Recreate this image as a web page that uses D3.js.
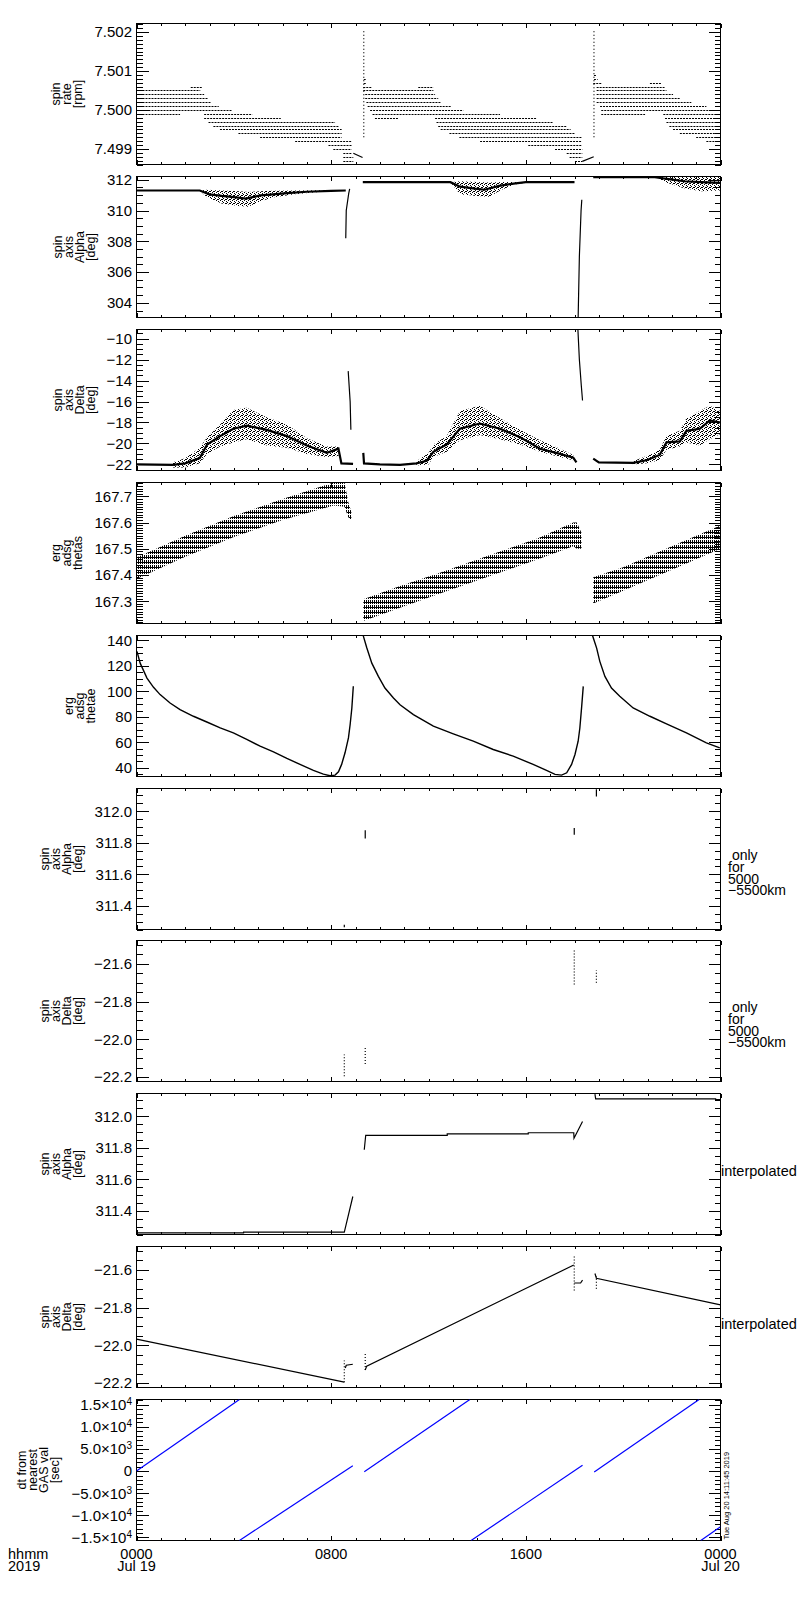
<!DOCTYPE html>
<html>
<head>
<meta charset="utf-8">
<script src="https://cdn.jsdelivr.net/npm/d3@7"></script>
<style>
body { margin: 0; background: #fff; }
svg { display: block; font-family: "Liberation Sans", Arial, sans-serif; }
</style>
</head>
<body>
<div class="vis-holder"></div>
<script>
// time axis (hours of 2019-07-19)
var hourTicks = [0, 8, 16, 24];
var hourLabels = ['0000', '0800', '1600', '0000'];
var dayLabels = ['Jul 19', '', '', 'Jul 20'];
var cornerLabels = ['hhmm', '2019'];
var stampText = 'Tue Aug 20 14:11:45 2019';

var yTitles = [
  ['spin', 'rate', '[rpm]'],
  ['spin', 'axis', 'Alpha', '[deg]'],
  ['spin', 'axis', 'Delta', '[deg]'],
  ['erg', 'adsg', 'thetas'],
  ['erg', 'adsg', 'thetae'],
  ['spin', 'axis', 'Alpha', '[deg]'],
  ['spin', 'axis', 'Delta', '[deg]'],
  ['spin', 'axis', 'Alpha', '[deg]'],
  ['spin', 'axis', 'Delta', '[deg]'],
  ['dt from', 'nearest', 'GAS val', '[sec]']
];
var onlyNote = [' only', 'for', '5000', '\u22125500km'];
var sideNotes = [[], [], [], [], [], onlyNote, onlyNote, ['interpolated'], ['interpolated'], []];

var yDomains = [
  [7.49860, 7.50222], [303.05, 312.21], [-22.58, -9.13], [167.215, 167.753], [33.2, 143.9],
  [311.25, 312.144], [-22.223, -21.477], [311.25, 312.144], [-22.223, -21.477], [-15700, 16200]
];
var yMajorTicks = [
  [7.499, 7.500, 7.501, 7.502],
  [304, 306, 308, 310, 312],
  [-22, -20, -18, -16, -14, -12, -10],
  [167.3, 167.4, 167.5, 167.6, 167.7],
  [40, 60, 80, 100, 120, 140],
  [311.4, 311.6, 311.8, 312.0],
  [-22.2, -22.0, -21.8, -21.6],
  [311.4, 311.6, 311.8, 312.0],
  [-22.2, -22.0, -21.8, -21.6],
  [-15000, -10000, -5000, 0, 5000, 10000, 15000]
];
var yTickLabels = [
  ['7.499', '7.500', '7.501', '7.502'],
  ['304', '306', '308', '310', '312'],
  ['\u221222', '\u221220', '\u221218', '\u221216', '\u221214', '\u221212', '\u221210'],
  ['167.3', '167.4', '167.5', '167.6', '167.7'],
  ['40', '60', '80', '100', '120', '140'],
  ['311.4', '311.6', '311.8', '312.0'],
  ['\u221222.2', '\u221222.0', '\u221221.8', '\u221221.6'],
  ['311.4', '311.6', '311.8', '312.0'],
  ['\u221222.2', '\u221222.0', '\u221221.8', '\u221221.6'],
  ['\u22121.5\u00d710^4', '\u22121.0\u00d710^4', '\u22125.0\u00d710^3', '0', '5.0\u00d710^3', '1.0\u00d710^4', '1.5\u00d710^4']
];
var yMinorSteps = [0.0001, 0.5, 0.5, 0.01, 5, 0.05, 0.05, 0.05, 0.05, 1000];

// panel 1: spin rate, quantised rows [rpm, t0, t1]
var spinRateRows = [
  [7.5006, 2.23, 2.69], [7.5005, 0, 2.62], [7.5004, 0, 2.78], [7.5003, 0, 2.92], [7.5002, 0, 3.05],
  [7.5001, 0, 3.38], [7.5000, 0, 3.91], [7.4999, 0, 1.79], [7.4999, 2.78, 4.76], [7.4998, 2.78, 5.93],
  [7.4997, 2.96, 8.16], [7.4996, 3.16, 8.30], [7.4995, 3.43, 8.43], [7.4994, 4.19, 8.43], [7.4993, 5.08, 8.43],
  [7.4992, 6.52, 8.84], [7.4991, 7.89, 8.84], [7.4990, 8.09, 8.84], [7.4989, 8.50, 8.84], [7.4988, 8.50, 8.91],
  [7.4987, 8.50, 8.91],
  [7.5008, 9.34, 9.42], [7.5007, 9.34, 9.45],
  [7.5006, 9.32, 9.67], [7.5006, 11.58, 12.20], [7.5005, 9.32, 12.20], [7.5004, 9.40, 12.27], [7.5003, 9.40, 12.40],
  [7.5002, 9.45, 12.50], [7.5001, 9.50, 12.95], [7.5000, 9.60, 13.43], [7.4999, 9.70, 14.94], [7.4998, 9.80, 10.75],
  [7.4998, 12.27, 16.44], [7.4997, 12.33, 17.13], [7.4996, 12.40, 17.68], [7.4995, 12.50, 17.84], [7.4994, 12.86, 18.02],
  [7.4993, 13.27, 18.29], [7.4992, 14.12, 18.29], [7.4991, 16.10, 18.29], [7.4990, 17.20, 18.32], [7.4989, 17.68, 18.32],
  [7.4988, 17.80, 18.32], [7.4987, 18.02, 18.32],
  [7.5009, 18.80, 18.90], [7.5008, 18.80, 18.95],
  [7.5007, 18.77, 19.11], [7.5007, 21.10, 21.58], [7.5006, 18.91, 21.70], [7.5005, 18.91, 21.78], [7.5004, 18.91, 22.05],
  [7.5003, 18.91, 22.33], [7.5002, 18.91, 22.80], [7.5001, 19.05, 23.42], [7.5000, 19.10, 24], [7.4999, 19.10, 20.90],
  [7.4999, 21.65, 24], [7.4998, 21.72, 24], [7.4997, 21.78, 24], [7.4996, 21.90, 24], [7.4995, 22.05, 24],
  [7.4994, 22.33, 24], [7.4993, 23.00, 24], [7.4992, 23.42, 24]
];
var spinRateSpikes = [[9.34, 7.4993, 7.50203], [18.80, 7.4993, 7.50203]];
var spinRateLinks = [[[8.91, 7.49889], [9.29, 7.49878]], [[18.32, 7.49868], [18.79, 7.49880]]];

// panel 2: spin axis alpha, core lines, scatter envelopes [t, lo, hi], jumps
var alphaCore = [
  [[0, 311.30], [2.6, 311.30], [3.0, 311.05], [3.5, 310.95], [4.0, 310.87], [4.5, 310.78], [5.1, 310.98],
   [5.6, 311.05], [6.2, 311.13], [7.0, 311.22], [8.0, 311.28], [8.6, 311.30]],
  [[9.3, 311.84], [12.9, 311.84], [13.3, 311.55], [13.9, 311.42], [14.3, 311.35], [14.9, 311.60],
   [15.5, 311.75], [16.0, 311.84], [18.0, 311.84]],
  [[18.77, 312.16], [21.3, 312.16], [21.8, 312.05], [22.5, 311.90], [23.2, 311.85], [24, 311.80]]
];
var alphaSpread = [
  [[2.6, 311.30, 311.30], [2.9, 310.85, 311.35], [3.5, 310.45, 311.30], [4.2, 310.30, 311.25], [4.6, 310.25, 311.20],
   [5.1, 310.60, 311.25], [5.6, 310.85, 311.28], [6.5, 311.05, 311.30], [7.5, 311.20, 311.32], [8.0, 311.30, 311.30]],
  [[12.9, 311.84, 311.84], [13.3, 311.05, 311.90], [14.0, 310.95, 311.85], [14.5, 310.90, 311.82], [15.0, 311.35, 311.86],
   [15.6, 311.70, 311.86], [16.1, 311.84, 311.84]],
  [[21.3, 312.16, 312.16], [21.8, 311.80, 312.20], [22.5, 311.45, 312.20], [23.2, 311.25, 312.20], [24, 311.30, 312.20]]
];
var alphaJumps = [
  [[8.60, 308.2], [8.62, 310.0], [8.72, 311.1], [8.76, 311.4]],
  [[18.15, 303.06], [18.20, 307.0], [18.27, 310.0], [18.30, 310.7]]
];

// panel 3: spin axis delta
var deltaCore = [
  [[0, -22.0], [1.5, -22.05], [2.0, -21.9], [2.6, -21.4], [2.9, -20.1], [3.44, -19.3], [3.98, -18.6], [4.53, -18.3],
   [5.35, -18.7], [6.18, -19.3], [7.0, -20.2], [7.82, -20.9], [8.3, -20.5], [8.42, -21.9], [8.9, -21.95]],
  [[9.32, -20.9], [9.35, -21.9], [10.0, -22.0], [10.83, -22.05], [11.5, -21.9], [11.93, -21.65], [12.2, -20.8],
   [12.75, -20.1], [13.29, -18.6], [14.11, -18.1], [14.94, -18.6], [15.76, -19.4], [16.58, -20.5], [17.4, -21.0],
   [17.95, -21.35], [18.08, -21.8]],
  [[18.77, -21.45], [19.0, -21.8], [20.41, -21.85], [20.96, -21.6], [21.5, -21.1], [21.78, -19.9], [22.33, -19.8],
   [22.6, -18.8], [23.15, -18.6], [23.56, -17.8], [24, -18.0]]
];
var deltaSpread = [
  [[1.5, -22.3, -21.8], [2.0, -22.3, -21.4], [2.6, -21.9, -20.4], [2.9, -21.0, -19.4], [3.44, -20.3, -18.2],
   [3.98, -19.9, -16.8], [4.53, -19.6, -16.6], [5.35, -20.2, -17.5], [6.18, -20.4, -18.2], [7.0, -21.0, -19.5],
   [7.82, -21.3, -20.3], [8.3, -21.2, -20.3]],
  [[11.5, -22.1, -21.7], [12.0, -22.0, -20.9], [12.2, -21.3, -20.1], [12.75, -20.8, -19.3], [13.29, -19.7, -16.9],
   [14.11, -19.2, -16.4], [14.94, -19.6, -17.6], [15.76, -20.1, -18.7], [16.58, -20.8, -19.7], [17.4, -21.3, -20.5],
   [17.95, -21.6, -21.1]],
  [[20.4, -22.0, -21.7], [20.96, -21.9, -21.2], [21.5, -21.6, -20.6], [21.78, -20.6, -19.3], [22.33, -20.3, -18.8],
   [22.6, -19.9, -17.6], [23.15, -20.2, -16.9], [23.56, -19.6, -16.4], [24, -19.1, -16.9]]
];
var deltaJumps = [
  [[8.70, -13.1], [8.78, -16.0], [8.81, -18.7]],
  [[18.14, -9.13], [18.20, -12.0], [18.28, -14.5], [18.33, -15.9]]
];

// panel 4: erg adsg thetas, band [t, lo, hi]
var thetasBand = [
  [[0, 167.385, 167.467], [2.0, 167.470, 167.550], [4.0, 167.545, 167.625], [6.0, 167.610, 167.690],
   [8.1, 167.665, 167.753], [8.55, 167.660, 167.753], [8.70, 167.620, 167.680], [8.83, 167.610, 167.640]],
  [[9.32, 167.225, 167.308], [10.83, 167.275, 167.358], [12.5, 167.330, 167.410], [14.5, 167.395, 167.475],
   [16.5, 167.460, 167.540], [17.95, 167.510, 167.600], [18.10, 167.500, 167.600], [18.29, 167.500, 167.560]],
  [[18.77, 167.291, 167.391], [20.0, 167.340, 167.430], [22.0, 167.420, 167.510], [23.97, 167.499, 167.588]]
];

// panel 5: erg adsg thetae
var thetaeCurves = [
  [[0.02, 131.4], [0.15, 122.2], [0.43, 110.5], [0.70, 103.2], [0.97, 97.5], [1.38, 90.9], [1.79, 85.7], [2.34, 80.5],
   [2.89, 76.0], [3.44, 71.3], [3.98, 67.4], [4.53, 62.3], [5.08, 57.0], [5.63, 52.6], [6.18, 47.4], [6.72, 42.7],
   [7.27, 38.0], [7.68, 35.1], [7.95, 33.8], [8.16, 34.3], [8.30, 36.9], [8.43, 42.7], [8.57, 51.8], [8.71, 63.5],
   [8.78, 74.0], [8.85, 87.0], [8.91, 104.0]],
  [[9.32, 143.6], [9.46, 134.5], [9.67, 122.2], [9.94, 111.8], [10.21, 102.7], [10.56, 94.8], [10.83, 89.5],
   [11.38, 81.8], [12.20, 72.7], [13.02, 66.7], [13.84, 60.9], [14.66, 54.4], [15.48, 49.2], [16.30, 42.7],
   [16.85, 38.0], [17.20, 34.9], [17.47, 34.3], [17.68, 36.1], [17.88, 42.7], [18.02, 50.5], [18.15, 60.9],
   [18.22, 71.3], [18.29, 87.0], [18.36, 104.0]],
  [[18.74, 143.9], [18.91, 134.0], [19.04, 123.6], [19.25, 111.8], [19.52, 102.7], [19.86, 96.2], [20.41, 87.0],
   [21.10, 80.5], [21.78, 74.5], [22.60, 67.4], [23.42, 59.6], [23.97, 55.7]]
];

// panels 6/7: only for 5000-5500 km, marks [t, lo, hi]
var alphaOnlyMarks = [[8.54, 311.265, 311.28], [9.40, 311.827, 311.879], [17.99, 311.851, 311.893], [18.90, 312.094, 312.140]];
var deltaOnlyMarks = [[8.54, -22.195, -22.08], [9.40, -22.13, -22.045], [17.99, -21.71, -21.52], [18.90, -21.70, -21.635]];

// panels 8/9: interpolated
var alphaInterp = [
  [[0, 311.26], [4.4, 311.26], [4.4, 311.265], [8.54, 311.265], [8.89, 311.491]],
  [[9.36, 311.787], [9.42, 311.879], [12.77, 311.879], [12.77, 311.888], [16.1, 311.888], [16.1, 311.895],
   [17.97, 311.895], [17.98, 311.86], [18.33, 311.967]],
  [[18.84, 312.14], [18.87, 312.11], [23.8, 312.11], [23.8, 312.105], [24, 312.105]]
];
var deltaInterp = [
  [[0, -21.967], [8.54, -22.195]],
  [[8.58, -22.12], [8.62, -22.105], [8.89, -22.10]],
  [[9.40, -22.13], [9.46, -22.11], [17.97, -21.575]],
  [[17.99, -21.67], [18.25, -21.67], [18.33, -21.655]],
  [[18.84, -21.62], [18.90, -21.645], [24, -21.786]]
];

// panel 10: dt from nearest GAS value [sec]
var gasDt = [
  [[0, 0], [4.23, 16200]],
  [[4.23, -15700], [8.89, 1200]],
  [[9.36, -150], [13.70, 16200]],
  [[13.75, -15700], [18.33, 1300]],
  [[18.81, -200], [23.12, 16200]],
  [[23.19, -15700], [24, -12600]]
];

var width = 800, height = 1600;
var plotLeft = 136.5, plotRight = 720.5;
var firstTop = 23.3, pitch = 152.85, panelH = 141;

var svg = d3.select('div.vis-holder').append('svg')
  .attr('width', width).attr('height', height)
  .style('background', '#fff');

var defs = svg.append('defs');
var stip = defs.append('pattern').attr('id', 'stip').attr('patternUnits', 'userSpaceOnUse')
  .attr('width', 4).attr('height', 4);
[[0, 0], [2, 1], [1, 3], [3, 2], [2, 3]].forEach(function(p) {
  stip.append('rect').attr('x', p[0]).attr('y', p[1]).attr('width', 1).attr('height', 1).attr('fill', '#000');
});
var hatch = defs.append('pattern').attr('id', 'hatch').attr('patternUnits', 'userSpaceOnUse')
  .attr('width', 2).attr('height', 5);
hatch.append('rect').attr('x', 0).attr('y', 0).attr('width', 1).attr('height', 4).attr('fill', '#000');
hatch.append('rect').attr('x', 1).attr('y', 2).attr('width', 1).attr('height', 1).attr('fill', '#000');

var xScale = d3.scaleLinear().domain([0, 24]).range([plotLeft, plotRight]);

function minorValues(dom, step) {
  var lo = Math.ceil(dom[0] / step - 1e-6), hi = Math.floor(dom[1] / step + 1e-6);
  return d3.range(lo, hi + 1).map(function(k) { return k * step; });
}

function styleAxis(g) {
  g.attr('font-size', 15).attr('font-family', null).attr('shape-rendering', 'crispEdges');
  g.select('.domain').remove();
  g.selectAll('line').attr('stroke', '#000');
  g.selectAll('text').attr('fill', '#000');
}

var panels = [];
for (var i = 0; i < 10; i++) {
  var pTop = Math.round(firstTop + i * pitch) + 0.5;
  var pBottom = pTop + panelH;
  var yScale = d3.scaleLinear().domain(yDomains[i]).range([pBottom, pTop]);
  var g = svg.append('g');

  defs.append('clipPath').attr('id', 'clip' + i).append('rect')
    .attr('x', plotLeft).attr('y', pTop).attr('width', plotRight - plotLeft).attr('height', panelH);

  // y axes, ticks pointing inward on both sides
  var minor = minorValues(yDomains[i], yMinorSteps[i]);
  g.append('g').attr('transform', 'translate(' + plotLeft + ',0)')
    .call(d3.axisLeft(yScale).tickValues(minor).tickSize(-6).tickFormat('')).call(styleAxis);
  g.append('g').attr('transform', 'translate(' + plotRight + ',0)')
    .call(d3.axisRight(yScale).tickValues(minor).tickSize(-6).tickFormat('')).call(styleAxis);
  g.append('g').attr('transform', 'translate(' + plotRight + ',0)')
    .call(d3.axisRight(yScale).tickValues(yMajorTicks[i]).tickSize(-12).tickFormat('')).call(styleAxis);
  var labs = yTickLabels[i];
  var leftAxis = g.append('g').attr('transform', 'translate(' + plotLeft + ',0)')
    .call(d3.axisLeft(yScale).tickValues(yMajorTicks[i]).tickSize(-12).tickPadding(4.5)
      .tickFormat(function(d, k) { return labs[k]; }))
    .call(styleAxis);
  leftAxis.selectAll('text').each(function() {
    var t = d3.select(this), s = t.text();
    if (s.indexOf('^') >= 0) {
      var parts = s.split('^');
      t.text(parts[0]);
      t.append('tspan').attr('dy', '-0.5em').attr('font-size', 10).text(parts[1]);
    }
  });

  // x ticks on top and bottom
  [['bottom', pBottom], ['top', pTop]].forEach(function(side) {
    var axisFn = side[0] === 'bottom' ? d3.axisBottom : d3.axisTop;
    g.append('g').attr('transform', 'translate(0,' + side[1] + ')')
      .call(axisFn(xScale).tickValues(d3.range(0, 25)).tickSize(-2.5).tickFormat('')).call(styleAxis);
    g.append('g').attr('transform', 'translate(0,' + side[1] + ')')
      .call(axisFn(xScale).tickValues(hourTicks).tickSize(-4.5).tickFormat('')).call(styleAxis);
  });

  g.append('rect').attr('x', plotLeft).attr('y', pTop)
    .attr('width', plotRight - plotLeft).attr('height', panelH)
    .attr('fill', 'none').attr('stroke', '#000').attr('shape-rendering', 'crispEdges');

  // stacked, rotated axis title
  var lblBox = leftAxis.node().getBBox();
  var lines = yTitles[i];
  var lastBase = lblBox.x + plotLeft - 12;
  var midY = (pTop + pBottom) / 2;
  lines.forEach(function(line, k) {
    var bx = lastBase - (lines.length - 1 - k) * 11;
    g.append('text')
      .attr('transform', 'translate(' + bx + ',' + midY + ')rotate(-90)')
      .attr('text-anchor', 'middle').attr('font-size', 12.5)
      .style('white-space', 'pre').text(line);
  });

  // right-hand notes
  var notes = sideNotes[i];
  if (notes.length === 1) {
    g.append('text').attr('x', plotRight + 0.5).attr('y', midY + 12).attr('font-size', 14.5).text(notes[0]);
  } else if (notes.length > 1) {
    notes.forEach(function(line, k) {
      g.append('text').attr('x', 728).attr('y', midY + 1 + k * 11.8).attr('font-size', 14)
        .style('white-space', 'pre').text(line);
    });
  }

  var plot = g.append('g').attr('clip-path', 'url(#clip' + i + ')');
  panels.push({ plot: plot, y: yScale, top: pTop, bottom: pBottom });
}

function drawLines(plot, y, segs, width, color) {
  var line = d3.line().x(function(d) { return xScale(d[0]); }).y(function(d) { return y(d[1]); });
  plot.append('g').selectAll('path').data(segs).enter().append('path')
    .attr('d', line).attr('fill', 'none')
    .attr('stroke', color || '#000').attr('stroke-width', width);
}
function drawSpread(plot, y, bands, fillId) {
  var area = d3.area().x(function(d) { return xScale(d[0]); })
    .y0(function(d) { return y(d[1]); }).y1(function(d) { return y(d[2]); });
  plot.append('g').selectAll('path').data(bands).enter().append('path')
    .attr('d', area).attr('fill', 'url(#' + fillId + ')');
}
function drawMarks(plot, y, marks, dash) {
  plot.append('g').selectAll('line').data(marks).enter().append('line')
    .attr('x1', function(d) { return xScale(d[0]); }).attr('x2', function(d) { return xScale(d[0]); })
    .attr('y1', function(d) { return y(d[1]); }).attr('y2', function(d) { return y(d[2]); })
    .attr('stroke', '#000').attr('stroke-width', 1.2)
    .attr('stroke-dasharray', dash || null);
}

// panel 1
var p = panels[0];
p.plot.append('g').selectAll('line').data(spinRateRows).enter().append('line')
  .attr('x1', function(d) { return xScale(d[1]); }).attr('x2', function(d) { return xScale(d[2]); })
  .attr('y1', function(d) { return Math.round(p.y(d[0])) + 0.5; })
  .attr('y2', function(d) { return Math.round(p.y(d[0])) + 0.5; })
  .attr('stroke', '#000').attr('stroke-width', 1).attr('stroke-dasharray', '2,1');
drawMarks(p.plot, p.y, spinRateSpikes, '1,2.5');
drawLines(p.plot, p.y, spinRateLinks, 1.2);

// panel 2
p = panels[1];
drawSpread(p.plot, p.y, alphaSpread, 'stip');
drawLines(p.plot, p.y, alphaCore, 2.2);
drawLines(p.plot, p.y, alphaJumps, 1.2);

// panel 3
p = panels[2];
drawSpread(p.plot, p.y, deltaSpread, 'stip');
drawLines(p.plot, p.y, deltaCore, 2.2);
drawLines(p.plot, p.y, deltaJumps, 1.2);

// panel 4
p = panels[3];
drawSpread(p.plot, p.y, thetasBand, 'hatch');

// panel 5
p = panels[4];
drawLines(p.plot, p.y, thetaeCurves, 1.4);

// panels 6, 7
drawMarks(panels[5].plot, panels[5].y, alphaOnlyMarks);
drawMarks(panels[6].plot, panels[6].y, deltaOnlyMarks, '1,2');

// panels 8, 9
drawLines(panels[7].plot, panels[7].y, alphaInterp, 1.2);
drawLines(panels[8].plot, panels[8].y, deltaInterp, 1.2);
drawMarks(panels[8].plot, panels[8].y, deltaOnlyMarks, '1,2');

// panel 10
drawLines(panels[9].plot, panels[9].y, gasDt, 1.2, '#0000ff');

// time labels under the last panel
var lastPanel = panels[9];
svg.append('g').selectAll('text').data(hourTicks).enter().append('text')
  .attr('x', function(d) { return xScale(d); }).attr('y', lastPanel.bottom + 18)
  .attr('text-anchor', 'middle').attr('font-size', 14.5)
  .text(function(d, k) { return hourLabels[k]; });
svg.append('g').selectAll('text').data(hourTicks).enter().append('text')
  .attr('x', function(d) { return xScale(d); }).attr('y', lastPanel.bottom + 30)
  .attr('text-anchor', 'middle').attr('font-size', 14.5)
  .style('white-space', 'pre')
  .text(function(d, k) { return dayLabels[k]; });
cornerLabels.forEach(function(s, k) {
  svg.append('text').attr('x', 8).attr('y', lastPanel.bottom + 18 + k * 12).attr('font-size', 14.5).text(s);
});

svg.append('text')
  .attr('transform', 'translate(728.5,' + (lastPanel.bottom - 1) + ')rotate(-90)')
  .attr('font-size', 7.5).text(stampText);
</script>
</body>
</html>
